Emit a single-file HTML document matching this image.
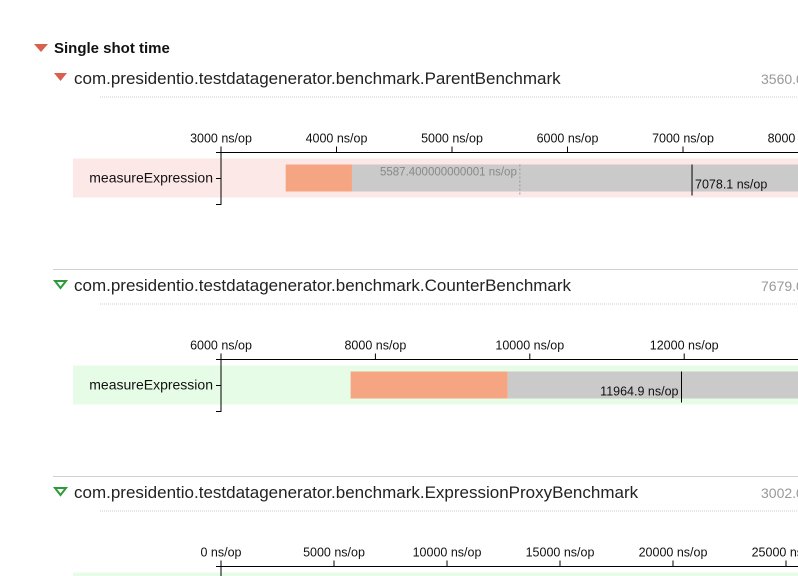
<!DOCTYPE html>
<html><head><meta charset="utf-8"><style>
body{margin:0;background:#fff;font-family:"Liberation Sans",sans-serif;overflow:hidden;width:798px;height:576px;}
svg{display:block}
</style></head><body>
<svg width="798" height="576" font-family="Liberation Sans, sans-serif">
<g>
<polygon points="34,44 48,44 41,52" fill="#d9604f"/>
<text x="54" y="53" font-size="15" font-weight="bold" fill="#111">Single shot time</text>
</g>
<g id="charts"></g>
</svg>
<script>
// Chart 1: ParentBenchmark
const c1Categories=["measureExpression"];
const c1Ticks=[3000,4000,5000,6000,7000,8000];
const c1Start=[3560.0];
const c1Mid=[4134];
const c1End=[9000];
const c1Mean=[5587.400000000001];
const c1Score=[7078.1];
// Chart 2: CounterBenchmark
const c2Categories=["measureExpression"];
const c2Ticks=[6000,8000,10000,12000,14000];
const c2Start=[7679.0];
const c2Mid=[9714];
const c2End=[16000];
const c2Score=[11964.9];
// Chart 3: ExpressionProxyBenchmark
const c3Ticks=[0,5000,10000,15000,20000,25000];
const c3Start=[3002.0];
const c3Mean=[16000];
const c3Score=[14100];

const NS="http://www.w3.org/2000/svg";
const root=document.getElementById('charts');
function mk(tag,attrs,parent){const e=document.createElementNS(NS,tag);for(const k in attrs)e.setAttribute(k,attrs[k]);(parent||root).appendChild(e);return e;}
function panel(o){
  const g=mk('g',{});
  
  
  if(o.sep!==undefined){const l=mk('line',{x1:53,x2:798,y1:o.sep,y2:o.sep,stroke:'#d0d0d0','stroke-width':1},g);
    
    }
  const tri=mk('polygon',{points:o.red?`54,${o.hy-5} 67,${o.hy-5} 60.5,${o.hy+3}`:`55,${o.hy-4} 66,${o.hy-4} 60.5,${o.hy+3}`,fill:o.red?'#d9604f':'#fff',stroke:o.red?'none':'#2e9a3a','stroke-width':2},g);
  
  
  const t=mk('text',{x:74,y:o.hy+6,'font-size':17,fill:'#222'},g);t.textContent=o.title;
  
  
  const v=mk('text',{x:761,y:o.hy+6,'font-size':14,fill:'#999'},g);v.textContent=o.value;
  
  
  const d=mk('line',{x1:100,x2:798,y1:o.hy+19,y2:o.hy+19,stroke:'#ccc','stroke-dasharray':'1,1'},g);
  
  
  const ay=o.ay;
  const sx=val=>221+(val-o.t0)*o.k;
  const band=mk('rect',{x:73,y:ay+6,width:725,height:39,fill:o.band},g);
  
  
  if(o.mid!==undefined){
    const r1=mk('rect',{x:sx(o.start),y:ay+12,width:sx(o.mid)-sx(o.start),height:27,fill:'#f6a582'},g);
    
    
    const r2=mk('rect',{x:sx(o.mid),y:ay+12,width:sx(o.end)-sx(o.mid),height:27,fill:'#cacaca'},g);
    
    
  }
  if(o.mean!==undefined){
    const m=mk('line',{x1:sx(o.mean),x2:sx(o.mean),y1:ay+12,y2:ay+43,stroke:'#999','stroke-dasharray':'2,2'},g);
    
    
    if(o.meanLabel){const mt=mk('text',{x:sx(o.mean)-3,y:ay+23,'font-size':11.5,fill:'#888','text-anchor':'end'},g);mt.textContent=o.mean+' ns/op';
      
      }
  }
  if(o.score!==undefined){
    const s=mk('line',{x1:sx(o.score),x2:sx(o.score),y1:ay+12,y2:ay+43,stroke:'#000'},g);
    
    
    if(o.scoreLabel){const st=mk('text',{x:o.labelRight?sx(o.score)+3:sx(o.score)-3,y:ay+36,'font-size':12.5,fill:'#111','text-anchor':o.labelRight?'start':'end'},g);st.textContent=o.score+' ns/op';
      
      }
  }
  const ax=mk('line',{x1:221,x2:798,y1:ay,y2:ay,stroke:'#000'},g);
  
  
  o.ticks.forEach(tv=>{
    const x=sx(tv);
    const tk=mk('line',{x1:x,x2:x,y1:ay-6,y2:ay,stroke:'#000'},g);
    
    
    const tl=mk('text',{x:x,y:ay-10,'font-size':12.5,fill:'#111','text-anchor':'middle'},g);tl.textContent=tv+' ns/op';
    
    
  });
  const yl=mk('path',{d:`M216,${ay}H221V${ay+52}H216`,fill:'none',stroke:'#000'},g);
  
  
  if(o.cat){
    const yt=mk('line',{x1:216,x2:221,y1:ay+26,y2:ay+26,stroke:'#000'},g);
    
    
    const c=mk('text',{x:213,y:ay+30,'font-size':14,fill:'#111','text-anchor':'end'},g);c.textContent=o.cat;
    
    
  }
}
panel({name:'parent-benchmark-panel',red:true,hy:78,title:'com.presidentio.testdatagenerator.benchmark.ParentBenchmark',value:'3560.0',ay:152.5,t0:c1Ticks[0],k:0.1155,band:'#fde8e8',ticks:c1Ticks,start:c1Start[0],mid:c1Mid[0],end:c1End[0],mean:c1Mean[0],meanLabel:true,score:c1Score[0],scoreLabel:true,labelRight:true,cat:c1Categories[0]});
panel({name:'counter-benchmark-panel',red:false,sep:269.5,hy:285,title:'com.presidentio.testdatagenerator.benchmark.CounterBenchmark',value:'7679.0',ay:359.5,t0:c2Ticks[0],k:0.0772,band:'#e6fce6',ticks:c2Ticks,start:c2Start[0],mid:c2Mid[0],end:c2End[0],score:c2Score[0],scoreLabel:true,labelRight:false,cat:c2Categories[0]});
panel({name:'expression-proxy-panel',red:false,sep:476.5,hy:492,title:'com.presidentio.testdatagenerator.benchmark.ExpressionProxyBenchmark',value:'3002.0',ay:566.5,t0:c3Ticks[0],k:0.0226,band:'#e6fce6',ticks:c3Ticks,start:c3Start[0],mean:c3Mean[0],score:c3Score[0]});
</script>
</body></html>
